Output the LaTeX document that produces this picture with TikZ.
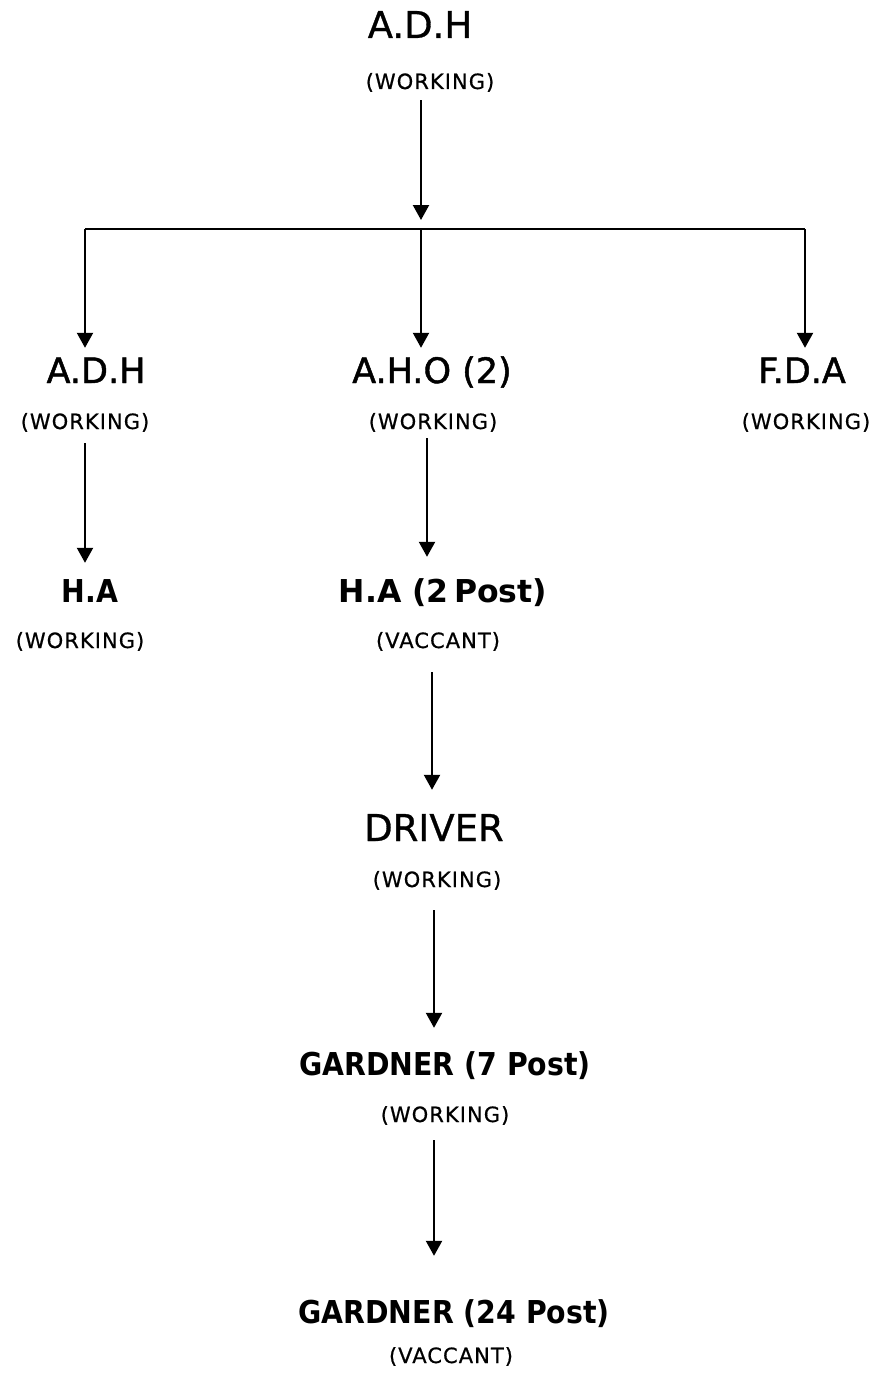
\documentclass[tikz,border=0pt]{standalone}
\usepackage{fontspec}
\usetikzlibrary{arrows.meta}
\newfontface\titlefont[FakeBold=0.8]{DejaVu Sans}
\newfontface\midfont[FakeBold=1.3]{DejaVu Sans}
\newfontface\boldfont[FakeStretch=0.9]{DejaVu Sans Bold}
\newfontface\widebold{DejaVu Sans Bold}
\newfontface\statfont[LetterSpace=5,FakeBold=0.7]{DejaVu Sans}
\tikzset{
  base/.style={anchor=base, inner sep=0pt, text depth=0pt},
  toptitle/.style={base, text height=26pt, font=\titlefont\fontsize{37}{40}\selectfont},
  midtitle/.style={base, text height=26pt, font=\midfont\fontsize{35}{40}\selectfont},
  boldtitle/.style={base, text height=23pt, font=\boldfont\fontsize{31.5}{36}\selectfont},
  status/.style={base, text height=15pt, font=\statfont\fontsize{21}{24}\selectfont},
  link/.style={draw, line width=2.2pt},
  arr/.style={link, -{Triangle[length=15pt,width=16pt]}}
}
\begin{document}
\begin{tikzpicture}[x=1pt,y=-1pt]
\useasboundingbox (0,0) rectangle (877,1378);

% head of the chart
\node[toptitle] (adh) at (420,38) {A.D.H};
\node[status] (adhS) at (430,89) {(WORKING)};

% second level
\node[midtitle] (adhB) at (96,383) {A.D.H};
\node[status] (adhBS) at (85,429) {(WORKING)};
\node[midtitle] (aho) at (432,383) {A.H.O (2)};
\node[status] (ahoS) at (433,429) {(WORKING)};
\node[midtitle] (fda) at (802,383) {F.D.A};
\node[status] (fdaS) at (806,429) {(WORKING)};

% third level
\node[boldtitle] (haL) at (90,602) {H.A};
\node[status] (haLS) at (80,648) {(WORKING)};
\node[boldtitle, font=\widebold\fontsize{31.5}{36}\selectfont] (haM) at (443,602) {H.A (2\,Post)};
\node[status] (haMS) at (438,648) {(VACCANT)};

% lower chain
\node[toptitle] (drv) at (434,841) {DRIVER};
\node[status] (drvS) at (437,887) {(WORKING)};
\node[boldtitle] (gdA) at (445,1075) {GARDNER (7 Post)};
\node[status] (gdAS) at (445,1122) {(WORKING)};
\node[boldtitle] (gdB) at (454,1323) {GARDNER (24 Post)};
\node[status] (gdBS) at (451,1363) {(VACCANT)};

% branch bar and column spines
\coordinate (j) at (421,229);
\coordinate (bl) at (85,229);
\coordinate (br) at (805,229);
\coordinate (cM) at (427,0);
\coordinate (cA) at (432,0);
\coordinate (cB) at (434,0);

\draw[arr, shorten <=11pt, shorten >=9pt] (j |- adhS.south) -- (j);
\draw[link] (bl) -- (br);
\draw[arr, shorten >=9pt] (bl) -- (bl |- adhB.north);
\draw[arr, shorten >=9pt] (j) -- (j |- aho.north);
\draw[arr, shorten >=9pt] (br) -- (br |- fda.north);

\draw[arr, shorten <=14pt, shorten >=16pt] (bl |- adhBS.south) -- (bl |- haL.north);
\draw[arr, shorten <=9pt, shorten >=22pt] (cM |- ahoS.south) -- (cM |- haM.north);
\draw[arr, shorten <=24pt, shorten >=25pt] (cA |- haMS.south) -- (cA |- drv.north);
\draw[arr, shorten <=23pt, shorten >=24pt] (cB |- drvS.south) -- (cB |- gdA.north);
\draw[arr, shorten <=18pt, shorten >=44pt] (cB |- gdAS.south) -- (cB |- gdB.north);
\end{tikzpicture}
\end{document}
